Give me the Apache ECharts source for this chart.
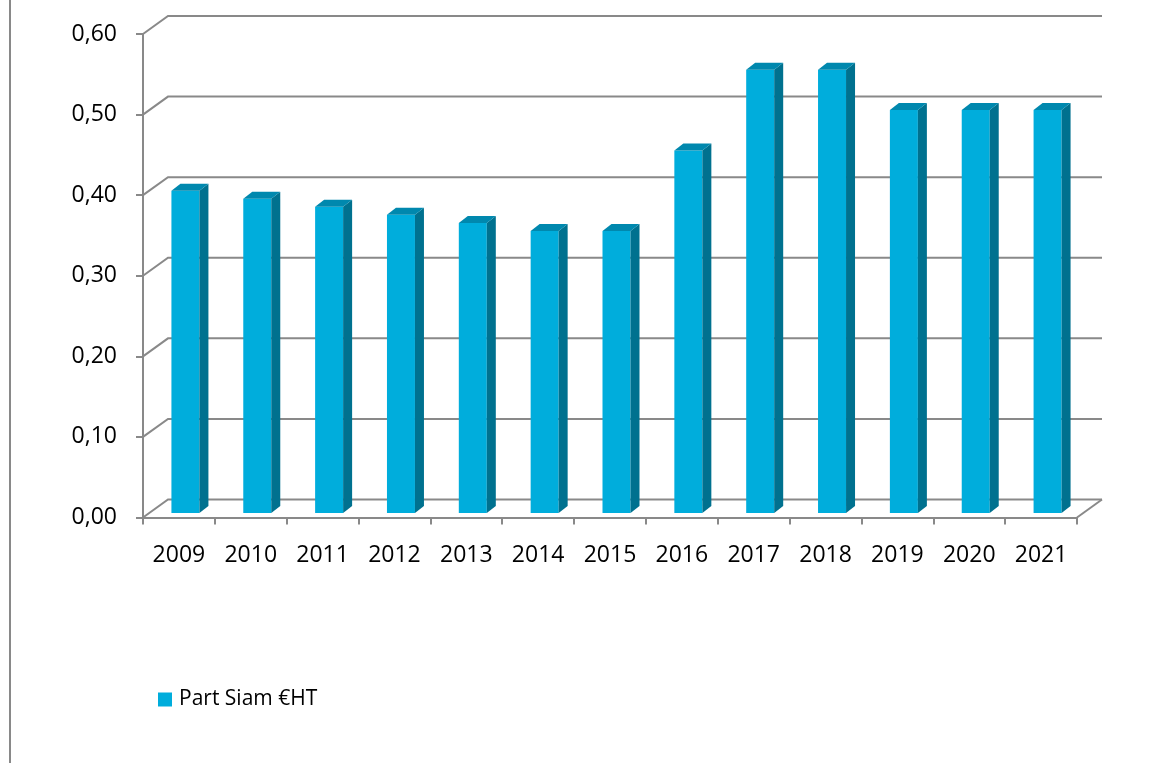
<!DOCTYPE html>
<html>
<head>
	<meta charset="utf-8">
	<title>Part Siam €HT</title>
	<script src="https://cdn.jsdelivr.net/npm/echarts@6/dist/echarts.min.js"></script>
	<style>body{margin:0;background:#fff}</style>
</head>
<body>
	<div id="main" style="width: 1155px;height: 763px"></div>
	<script type="text/javascript">
		var years = ['2009', '2010', '2011', '2012', '2013', '2014', '2015', '2016', '2017', '2018', '2019', '2020', '2021'];
		var partSiam = [0.40, 0.39, 0.38, 0.37, 0.36, 0.35, 0.35, 0.45, 0.55, 0.55, 0.50, 0.50, 0.50];
		var yTicks = [0, 0.1, 0.2, 0.3, 0.4, 0.5, 0.6];
		var seriesName = 'Part Siam €HT';

		var lineColor = '#898989';
		var depthX = 25, depthY = -18;	// décalage du mur du fond
		var barShiftX = 6.5, barShiftY = -4.5;	// position des barres dans la profondeur
		var barW = 28, barDX = 9, barDY = -7;	// taille des barres 3D

		var myChart = echarts.init(document.getElementById('main'));

		// lignes du mur et du sol en perspective
		function renderGrid(params, api) {
			var cs = params.coordSys;
			var y = api.coord([0, api.value(1)])[1];
			var x0 = cs.x, x1 = cs.x + cs.width;
			var style = {stroke: lineColor, lineWidth: 2, fill: 'none'};
			var children = [
				{type: 'polyline', shape: {points: [[x0, y], [x0 + depthX, y + depthY], [x1 + depthX, y + depthY]]}, style: style}
			];
			if (api.value(1) === 0) {
				children.push({type: 'line', shape: {x1: x1, y1: y, x2: x1 + depthX, y2: y + depthY}, style: style});
			}
			return {type: 'group', children: children};
		}

		// barres 3D : face avant, côté et dessus
		function renderBar(params, api) {
			var idx = api.value(0);
			var top = api.coord([idx, api.value(1)]);
			var base = api.coord([idx, 0]);
			var l = top[0] + barShiftX - barW / 2, r = l + barW;
			var t = top[1] + barShiftY, b = base[1] + barShiftY;
			return {
				type: 'group',
				children: [
					{type: 'polygon', shape: {points: [[l, t], [r, t], [r, b], [l, b]]}, style: {fill: '#00ADDC'}},
					{type: 'polygon', shape: {points: [[r, t], [r + barDX, t + barDY], [r + barDX, b + barDY], [r, b]]}, style: {fill: '#00718F'}},
					{type: 'polygon', shape: {points: [[l, t], [l + barDX, t + barDY], [r + barDX, t + barDY], [r, t]]}, style: {fill: '#0088AE'}}
				]
			};
		}

		var option = {
			backgroundColor: '#ffffff',
			animation: false,
			textStyle: {fontFamily: 'Open Sans'},
			grid: {left: 143, right: 78, top: 34, bottom: 245.5},
			legend: {
				data: [seriesName],
				left: 153,
				top: 684,
				icon: 'rect',
				itemWidth: 14,
				itemHeight: 14,
				itemGap: 6,
				textStyle: {fontSize: 21, color: '#000', fontFamily: 'Open Sans', padding: [0, 0, 0, 2]}
			},
			xAxis: {
				type: 'category',
				data: years,
				boundaryGap: true,
				axisLine: {lineStyle: {color: lineColor, width: 2}},
				axisTick: {show: true, length: 7, lineStyle: {color: lineColor, width: 2}},
				axisLabel: {color: '#000', fontSize: 23, margin: 26, fontFamily: 'Open Sans'},
				splitLine: {show: false}
			},
			yAxis: {
				type: 'value',
				min: 0,
				max: 0.6,
				interval: 0.1,
				axisLine: {show: true, lineStyle: {color: lineColor, width: 2}},
				axisTick: {show: true, length: 7, lineStyle: {color: lineColor, width: 2}},
				axisLabel: {
					color: '#000', fontSize: 23, margin: 26, fontFamily: 'Open Sans',
					padding: [5, 0, 0, 0],
					formatter: function (v) { return v.toFixed(2).replace('.', ','); }
				},
				splitLine: {show: false}
			},
			graphic: [
				{type: 'line', shape: {x1: 10, y1: 0, x2: 10, y2: 763}, style: {stroke: lineColor, lineWidth: 2}}
			],
			series: [
				{
					name: 'grille',
					type: 'custom',
					renderItem: renderGrid,
					data: yTicks.map(function (v) { return [0, v]; }),
					encode: {x: 0, y: 1},
					silent: true,
					z: 1
				},
				{
					name: seriesName,
					type: 'custom',
					renderItem: renderBar,
					itemStyle: {color: '#00ADDC'},
					data: partSiam.map(function (v, i) { return [i, v]; }),
					encode: {x: 0, y: 1},
					z: 2
				}
			]
		};
		myChart.setOption(option);
	</script>
</body>
</html>
